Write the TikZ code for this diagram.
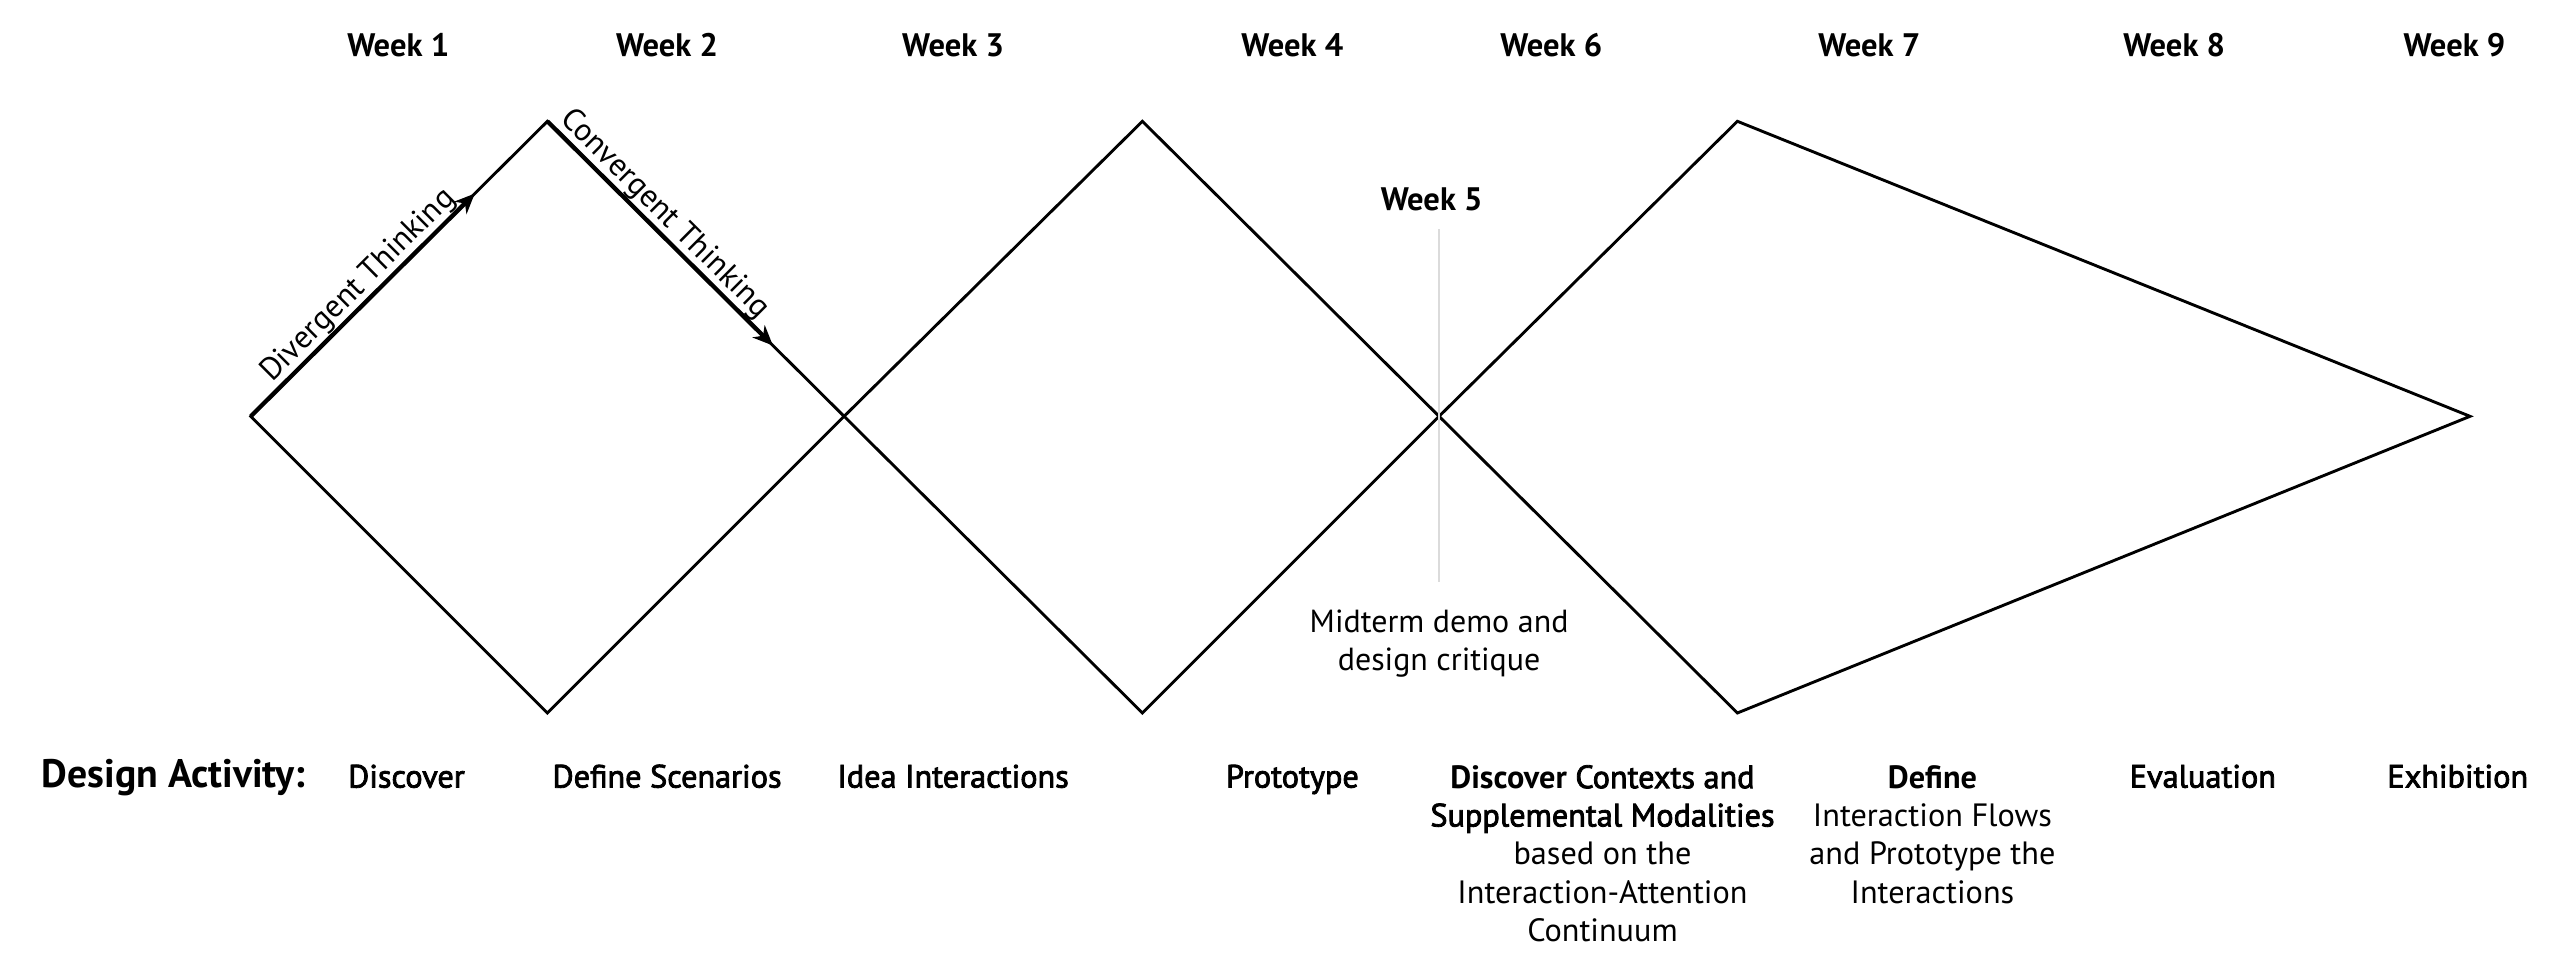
\documentclass[tikz,border=0pt]{standalone}
\usepackage{fontspec}
\setmainfont{PT Sans}
\newfontfamily\semibfont{PT Sans}[FakeBold=2.5]
\usetikzlibrary{arrows.meta,calc}

\begin{document}
\begin{tikzpicture}[x=0.02cm,y=-0.02cm,
  outline/.style={line width=1pt, line join=miter},
  flowedge/.style={line width=1.5pt, -{Stealth[length=7pt,width=6pt,inset=2.2pt]}},
  week/.style={font=\bfseries\fontsize{11.3}{13}\selectfont, anchor=base, inner sep=0pt},
  edgelabel/.style={font=\fontsize{11}{13}\selectfont, inner sep=0.5pt},
  heading/.style={font=\bfseries\fontsize{13.8}{16}\selectfont, anchor=base, inner sep=0pt},
  activity/.style={font=\semibfont\fontsize{11.2}{13.3}\selectfont, anchor=base, inner sep=0pt},
  activitybox/.style={font=\semibfont\fontsize{11.2}{13.3}\selectfont, anchor=north, inner sep=0pt, align=center},
  note/.style={font=\fontsize{11.1}{13.4}\selectfont, anchor=north, inner sep=0pt, align=center},
  marker/.style={draw=black!14, line width=0.6pt}
]
\useasboundingbox (0,0) rectangle (1568,582);

% corner points of the three phases
\coordinate (a) at (153,254);
\coordinate (b) at (334,74);
\coordinate (c) at (334,435);
\coordinate (d) at (515,254);
\coordinate (e) at (697,74);
\coordinate (f) at (697,435);
\coordinate (g) at (878,254);
\coordinate (h) at (1060,74);
\coordinate (i) at (1060,435);
\coordinate (j) at (1507,254);

% outline of the double diamond and the final wedge
\draw[outline] (a) -- (b) -- (d) -- (e) -- (g) -- (h) -- (j) -- (i) -- (g) -- (f) -- (d) -- (c) -- cycle;

% thinking directions
\draw[flowedge] (a) -- ($(a)!0.755!(b)$);
\draw[flowedge] (b) -- ($(b)!0.76!(d)$);
\path (a) -- (b) node[edgelabel, pos=0.403, sloped, above] (div) {Divergent Thinking};
\path (b) -- (d) node[edgelabel, pos=0.355, sloped, above] (conv) {Convergent Thinking};

% week headings
\node[week] (w1) at (243,34.2) {Week 1};
\node[week] (w2) at (407,34.2) {Week 2};
\node[week] (w3) at (581.5,34.2) {Week 3};
\node[week] (w4) at (788.5,34.2) {Week 4};
\node[week] (w6) at (946.5,34.2) {Week 6};
\node[week] (w7) at (1140.5,34.2) {Week 7};
\node[week] (w8) at (1326.5,34.2) {Week 8};
\node[week] (w9) at (1497.5,34.2) {Week 9};

% midterm marker
\node[week] (w5) at (873.5,128.4) {Week 5};
\node[note] (mid) at (878,371.5) {Midterm demo and\\design critique};
\coordinate (m1) at (878,140);
\coordinate (m2) at (878,355);
\draw[marker] (m1) -- (m2);

% design activities
\node[heading] (da) at (106,480.5) {Design Activity:};
\node[activity] (act1) at (248,480.5) {Discover};
\node[activity] (act2) at (407,480.5) {Define Scenarios};
\node[activity] (act3) at (581.5,480.5) {Idea Interactions};
\node[activity] (act4) at (788.5,480.5) {Prototype};
\node[activitybox] (act5) at (977.7,466.5) {{\rmfamily\bfseries Discover} Contexts and\\Supplemental Modalities\\{\rmfamily based on the}\\{\rmfamily Interaction-Attention}\\{\rmfamily Continuum}};
\node[activitybox] (act6) at (1179,466.5) {{\rmfamily\bfseries Define}\\{\rmfamily Interaction Flows}\\{\rmfamily and Prototype the}\\{\rmfamily Interactions}};
\node[activity] (act7) at (1344,480.5) {Evaluation};
\node[activity] (act8) at (1499.5,480.5) {Exhibition};
\end{tikzpicture}
\end{document}
